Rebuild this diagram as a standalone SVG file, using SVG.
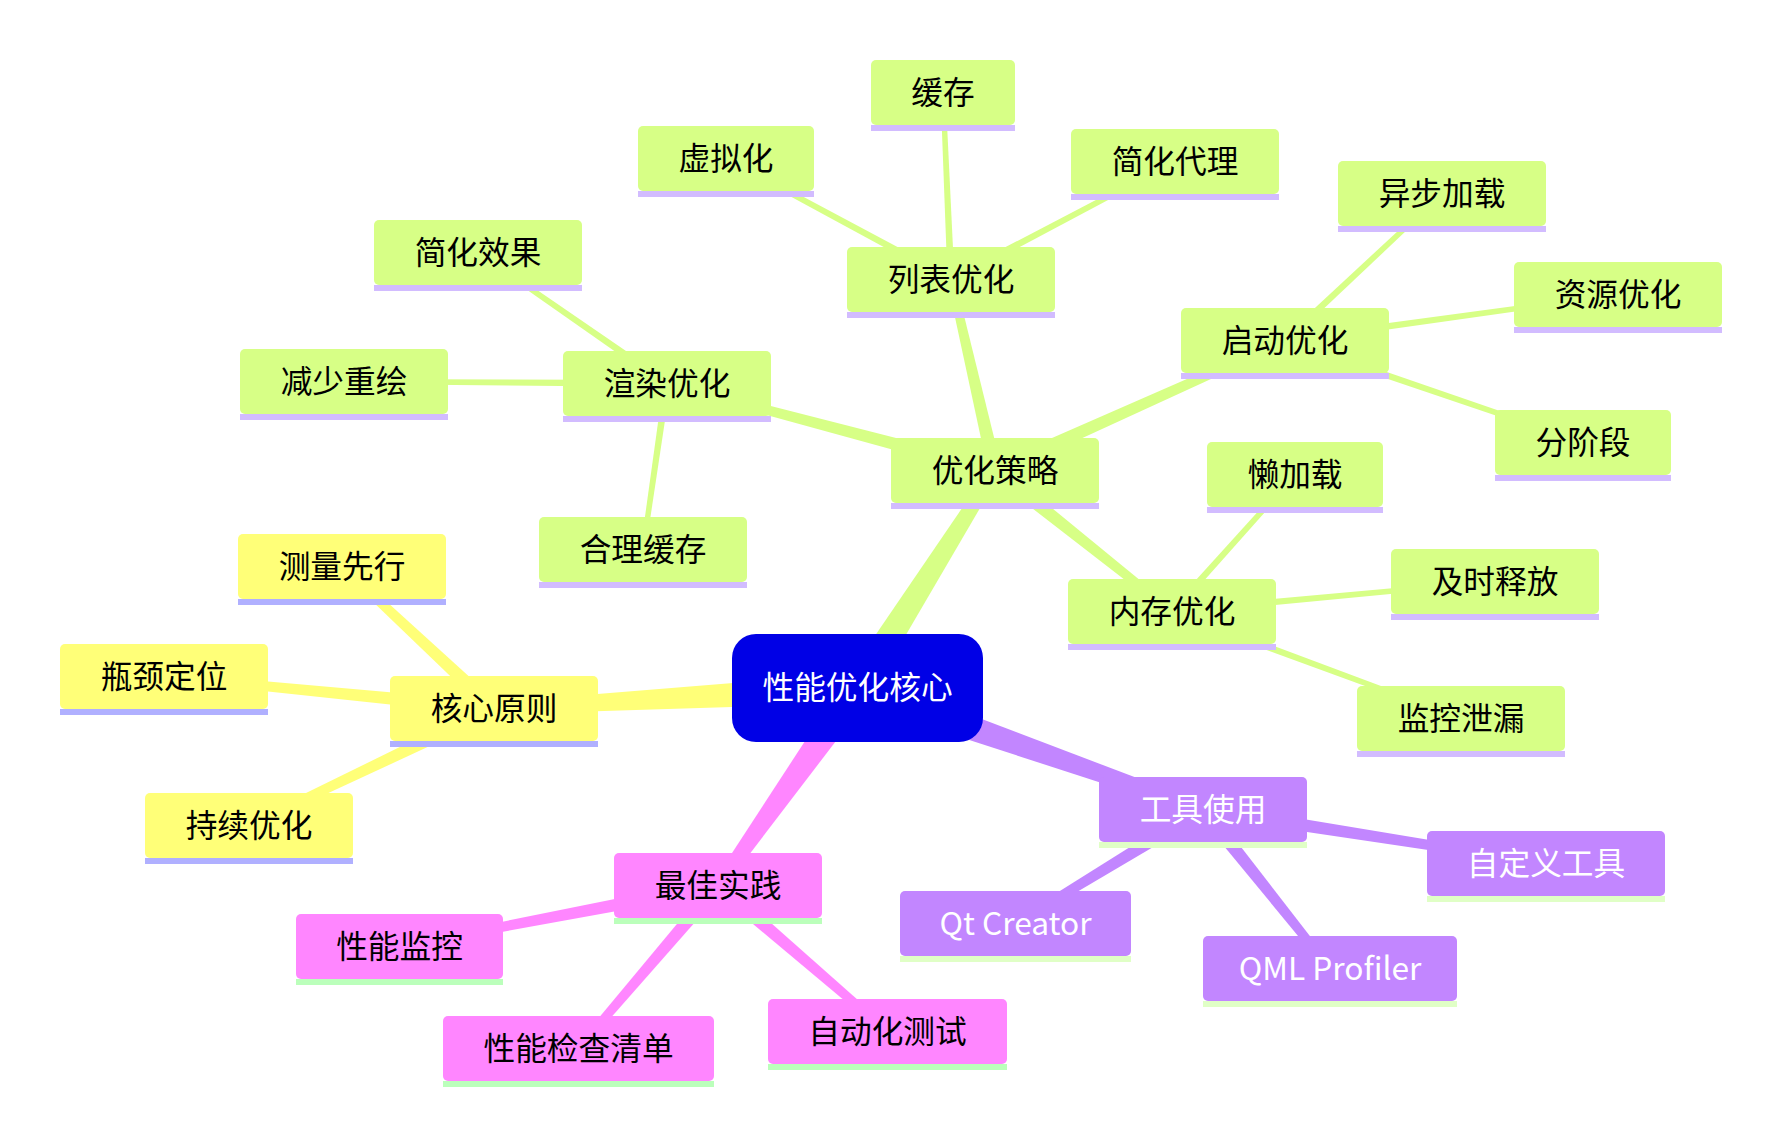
<svg xmlns="http://www.w3.org/2000/svg" width="1782" height="1143" viewBox="0 0 1782 1143">
<style>
text{font-family:"Noto Sans CJK SC","Noto Sans",sans-serif;font-size:31.7px;text-anchor:middle;fill:#000}
.y .b{fill:#ffff78}.y .u{fill:#b0b0ff}
.g .b{fill:#d7ff86}.g .u{fill:#d2bcff}
.p .b{fill:#c286ff}.p .u{fill:#e0ffc6}.p text{fill:#fff}
.k .b{fill:#ff86ff}.k .u{fill:#bbffbb}
.ey{fill:#ffff78}.eg{fill:#d7ff86}.ep{fill:#c286ff}.ek{fill:#ff86ff}
</style>
<rect width="1782" height="1143" fill="#fff"/>
<g id="connectors">
<polygon class="eg" points="870.2,696.0 1000.1,473.7 989.9,467.3 844.8,680.0"/>
<polygon class="ey" points="856.7,673.0 493.7,702.5 494.3,714.5 858.3,703.0"/>
<polygon class="ek" points="845.3,679.3 713.1,882.0 722.9,889.0 869.8,696.7"/>
<polygon class="ep" points="852.5,702.2 1201.0,815.2 1205.0,803.8 862.5,673.8"/>
<polygon class="eg" points="996.8,463.7 668.0,379.6 666.0,387.4 993.2,477.3"/>
<polygon class="eg" points="1001.8,468.9 954.9,278.6 947.1,280.4 988.2,472.1"/>
<polygon class="eg" points="997.9,476.9 1286.6,344.2 1283.4,336.8 992.1,464.1"/>
<polygon class="eg" points="990.6,476.0 1169.5,614.6 1174.5,608.4 999.4,465.0"/>
<polygon class="ey" points="498.8,703.4 344.7,563.6 339.3,569.4 489.2,713.6"/>
<polygon class="ey" points="494.7,701.5 164.4,672.5 163.6,680.5 493.3,715.5"/>
<polygon class="ey" points="491.0,702.2 247.3,821.9 250.7,829.1 497.0,714.8"/>
<polygon class="ek" points="716.7,878.6 398.7,942.6 400.3,950.4 719.3,892.4"/>
<polygon class="ek" points="712.7,881.0 575.5,1045.9 581.5,1051.1 723.3,890.0"/>
<polygon class="ek" points="713.4,890.8 884.9,1034.5 890.1,1028.5 722.6,880.2"/>
<polygon class="ep" points="1199.4,803.5 1013.4,920.1 1017.6,926.9 1206.6,815.5"/>
<polygon class="ep" points="1197.5,813.9 1326.9,971.0 1333.1,966.0 1208.5,805.1"/>
<polygon class="ep" points="1201.9,816.4 1545.4,867.5 1546.6,859.5 1204.1,802.6"/>
<polygon class="eg" points="669.0,380.6 479.4,250.4 476.6,254.6 665.0,386.4"/>
<polygon class="eg" points="667,380 344,379 344,384 667,387"/>
<polygon class="eg" points="663.5,383.0 640.5,549.1 645.5,549.9 670.5,384.0"/>
<polygon class="eg" points="952.7,276.4 727.2,156.3 724.8,160.7 949.3,282.6"/>
<polygon class="eg" points="954.5,279.4 945.5,92.4 940.5,92.6 947.5,279.6"/>
<polygon class="eg" points="952.6,282.6 1176.2,163.7 1173.8,159.3 949.4,276.4"/>
<polygon class="eg" points="1287.4,343.1 1443.7,195.3 1440.3,191.7 1282.6,337.9"/>
<polygon class="eg" points="1285.5,344.0 1618.3,297.0 1617.7,292.0 1284.5,337.0"/>
<polygon class="eg" points="1283.9,343.8 1582.2,444.9 1583.8,440.1 1286.1,337.2"/>
<polygon class="eg" points="1174.6,613.8 1296.9,476.2 1293.1,472.8 1169.4,609.2"/>
<polygon class="eg" points="1172.3,615.0 1495.2,584.0 1494.8,579.0 1171.7,608.0"/>
<polygon class="eg" points="1170.8,614.8 1460.1,720.8 1461.9,716.2 1173.2,608.2"/>
</g>
<g id="root"><rect x="732" y="634" width="251" height="108" rx="24" fill="#0000e6"/><text x="857.5" y="699" style="fill:#fff">性能优化核心</text></g>
<g id="n-youhua" class="g"><rect class="b" x="891" y="438" width="208" height="65" rx="5"/><rect class="u" x="891" y="503" width="208" height="6"/><text x="995" y="481.5">优化策略</text></g>
<g id="n-xuanran" class="g"><rect class="b" x="563" y="351" width="208" height="65" rx="5"/><rect class="u" x="563" y="416" width="208" height="6"/><text x="667" y="394.5">渲染优化</text></g>
<g id="n-jianhuaxiaoguo" class="g"><rect class="b" x="374" y="220" width="208" height="65" rx="5"/><rect class="u" x="374" y="285" width="208" height="6"/><text x="478" y="263.5">简化效果</text></g>
<g id="n-jianshao" class="g"><rect class="b" x="240" y="349" width="208" height="65" rx="5"/><rect class="u" x="240" y="414" width="208" height="6"/><text x="344" y="392.5">减少重绘</text></g>
<g id="n-helihuancun" class="g"><rect class="b" x="539" y="517" width="208" height="65" rx="5"/><rect class="u" x="539" y="582" width="208" height="6"/><text x="643" y="560.5">合理缓存</text></g>
<g id="n-liebiao" class="g"><rect class="b" x="847" y="247" width="208" height="65" rx="5"/><rect class="u" x="847" y="312" width="208" height="6"/><text x="951" y="290.5">列表优化</text></g>
<g id="n-xuni" class="g"><rect class="b" x="638" y="126" width="176" height="65" rx="5"/><rect class="u" x="638" y="191" width="176" height="6"/><text x="726" y="169.5">虚拟化</text></g>
<g id="n-huancun" class="g"><rect class="b" x="871" y="60" width="144" height="65" rx="5"/><rect class="u" x="871" y="125" width="144" height="6"/><text x="943" y="103.5">缓存</text></g>
<g id="n-jianhuadaili" class="g"><rect class="b" x="1071" y="129" width="208" height="65" rx="5"/><rect class="u" x="1071" y="194" width="208" height="6"/><text x="1175" y="172.5">简化代理</text></g>
<g id="n-qidong" class="g"><rect class="b" x="1181" y="308" width="208" height="65" rx="5"/><rect class="u" x="1181" y="373" width="208" height="6"/><text x="1285" y="351.5">启动优化</text></g>
<g id="n-yibu" class="g"><rect class="b" x="1338" y="161" width="208" height="65" rx="5"/><rect class="u" x="1338" y="226" width="208" height="6"/><text x="1442" y="204.5">异步加载</text></g>
<g id="n-ziyuan" class="g"><rect class="b" x="1514" y="262" width="208" height="65" rx="5"/><rect class="u" x="1514" y="327" width="208" height="6"/><text x="1618" y="305.5">资源优化</text></g>
<g id="n-fenjieduan" class="g"><rect class="b" x="1495" y="410" width="176" height="65" rx="5"/><rect class="u" x="1495" y="475" width="176" height="6"/><text x="1583" y="453.5">分阶段</text></g>
<g id="n-neicun" class="g"><rect class="b" x="1068" y="579" width="208" height="65" rx="5"/><rect class="u" x="1068" y="644" width="208" height="6"/><text x="1172" y="622.5">内存优化</text></g>
<g id="n-lanjiazai" class="g"><rect class="b" x="1207" y="442" width="176" height="65" rx="5"/><rect class="u" x="1207" y="507" width="176" height="6"/><text x="1295" y="485.5">懒加载</text></g>
<g id="n-jishi" class="g"><rect class="b" x="1391" y="549" width="208" height="65" rx="5"/><rect class="u" x="1391" y="614" width="208" height="6"/><text x="1495" y="592.5">及时释放</text></g>
<g id="n-jiankongxielou" class="g"><rect class="b" x="1357" y="686" width="208" height="65" rx="5"/><rect class="u" x="1357" y="751" width="208" height="6"/><text x="1461" y="729.5">监控泄漏</text></g>
<g id="n-hexin" class="y"><rect class="b" x="390" y="676" width="208" height="65" rx="5"/><rect class="u" x="390" y="741" width="208" height="6"/><text x="494" y="719.5">核心原则</text></g>
<g id="n-celiang" class="y"><rect class="b" x="238" y="534" width="208" height="65" rx="5"/><rect class="u" x="238" y="599" width="208" height="6"/><text x="342" y="577.5">测量先行</text></g>
<g id="n-pingjing" class="y"><rect class="b" x="60" y="644" width="208" height="65" rx="5"/><rect class="u" x="60" y="709" width="208" height="6"/><text x="164" y="687.5">瓶颈定位</text></g>
<g id="n-chixu" class="y"><rect class="b" x="145" y="793" width="208" height="65" rx="5"/><rect class="u" x="145" y="858" width="208" height="6"/><text x="249" y="836.5">持续优化</text></g>
<g id="n-zuijia" class="k"><rect class="b" x="614" y="853" width="208" height="65" rx="5"/><rect class="u" x="614" y="918" width="208" height="6"/><text x="718" y="896.5">最佳实践</text></g>
<g id="n-xingnengjiankong" class="k"><rect class="b" x="296" y="914" width="207" height="65" rx="5"/><rect class="u" x="296" y="979" width="207" height="6"/><text x="399.5" y="957.5">性能监控</text></g>
<g id="n-jianchaqingdan" class="k"><rect class="b" x="443" y="1016" width="271" height="65" rx="5"/><rect class="u" x="443" y="1081" width="271" height="6"/><text x="578.5" y="1059.5">性能检查清单</text></g>
<g id="n-zidonghua" class="k"><rect class="b" x="768" y="999" width="239" height="65" rx="5"/><rect class="u" x="768" y="1064" width="239" height="6"/><text x="887.5" y="1042.5">自动化测试</text></g>
<g id="n-gongju" class="p"><rect class="b" x="1099" y="777" width="208" height="65" rx="5"/><rect class="u" x="1099" y="842" width="208" height="6"/><text x="1203" y="820.5">工具使用</text></g>
<g id="n-qtcreator" class="p"><rect class="b" x="900" y="891" width="231" height="65" rx="5"/><rect class="u" x="900" y="956" width="231" height="6"/><text x="1015.5" y="934.5">Qt Creator</text></g>
<g id="n-qmlprofiler" class="p"><rect class="b" x="1203" y="936" width="254" height="65" rx="5"/><rect class="u" x="1203" y="1001" width="254" height="6"/><text x="1330" y="979.5">QML Profiler</text></g>
<g id="n-zidingyi" class="p"><rect class="b" x="1427" y="831" width="238" height="65" rx="5"/><rect class="u" x="1427" y="896" width="238" height="6"/><text x="1546" y="874.5">自定义工具</text></g>
</svg>
